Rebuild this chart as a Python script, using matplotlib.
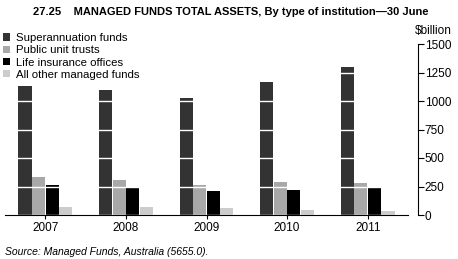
import matplotlib.pyplot as plt
import numpy as np

years = ['2007', '2008', '2009', '2010', '2011']
super_funds = [1131, 1096, 1029, 1170, 1301]
unit_trusts = [336, 307, 263, 292, 284]
life_offices = [263, 240, 210, 219, 240]
other_funds = [73, 73, 64, 44, 35]

series = [
    ('Superannuation funds', super_funds, '#333333'),
    ('Public unit trusts', unit_trusts, '#a8a8a8'),
    ('Life insurance offices', life_offices, '#000000'),
    ('All other managed funds', other_funds, '#cccccc'),
]

plt.rcParams['font.family'] = ['Liberation Sans', 'DejaVu Sans']

fig = plt.figure(figsize=(4.58, 2.59), dpi=100)
ax = fig.add_axes([5 / 458, 1 - 215 / 259, 403 / 458, 171 / 259])

x = np.arange(len(years))
w = 0.168
for i, (name, vals, col) in enumerate(series):
    ax.bar(x + (i - 1.5) * w, vals, w * 0.97, color=col, label=name, linewidth=0)

ax.set_xlim(-0.5, 4.5)
ax.set_ylim(0, 1500)
ax.set_xticks(x)
ax.set_xticklabels(years, fontsize=8.5)
ax.set_yticks([0, 250, 500, 750, 1000, 1250, 1500])
ax.yaxis.tick_right()
ax.tick_params(axis='y', labelsize=8.5, length=4, width=0.8, pad=1)
ax.tick_params(axis='x', length=3, width=0.8, pad=2)

# white gridlines cut across the bars
ax.set_axisbelow(False)
ax.yaxis.grid(True, color='white', linewidth=1)

ax.spines['top'].set_visible(False)
ax.spines['left'].set_visible(False)
ax.spines['right'].set_position(('outward', 7))
ax.spines['right'].set_linewidth(0.8)
ax.spines['bottom'].set_linewidth(0.8)

ax.legend(loc='upper left', bbox_to_anchor=(3 / 458, 1 - 33 / 259),
          bbox_transform=fig.transFigure, frameon=False, fontsize=8.2,
          handlelength=0.6, handleheight=0.6, handletextpad=0.5,
          labelspacing=0.2, borderaxespad=0, borderpad=0)

fig.text(33 / 458, 1 - 12 / 259, '27.25    MANAGED FUNDS TOTAL ASSETS, By type of institution\u201430 June',
         fontsize=8.0, fontweight='bold', va='center', ha='left')
fig.text(415 / 458, 1 - 31 / 259, '$billion', fontsize=8.5, va='center', ha='left')
fig.text(5 / 458, 1 - 252 / 259, 'Source: Managed Funds, Australia (5655.0).',
         fontsize=7.5, style='italic', va='center', ha='left')

fig.savefig('out.png', dpi=100)
